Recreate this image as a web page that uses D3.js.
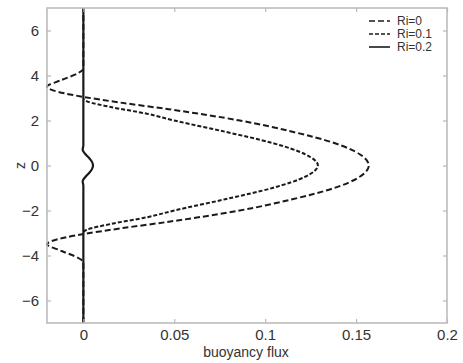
<!DOCTYPE html>
<html><head><meta charset="utf-8">
<script src="https://cdn.jsdelivr.net/npm/d3@7"></script>
<style>body{margin:0;background:#fff}svg{display:block;font-family:"Liberation Sans",Arial,sans-serif}</style>
</head><body><svg id="c" width="463" height="363"></svg>
<script>
// half profiles (z >= 0); mirrored for z < 0
const zRi0 = [0, 0.5, 1.0, 1.5, 2.0, 2.5, 2.8, 3.05, 3.2, 3.5, 3.8, 4.1, 4.3, 7];
const fRi0 = [0.157, 0.152, 0.138, 0.115, 0.086, 0.047, 0.02, 0, -0.01, -0.02, -0.012, -0.003, 0, 0];
const zRi01 = [0, 0.5, 1.0, 1.5, 2.0, 2.3, 2.6, 2.85, 2.95];
const fRi01 = [0.129, 0.122, 0.104, 0.078, 0.05, 0.035, 0.015, 0.002, 0];
const zRi02 = [0, 0.15, 0.3, 0.5, 0.7, 0.9, 7];
const fRi02 = [0.0053, 0.0048, 0.0035, 0.0012, -0.0004, 0, 0];
const xTicks = [0, 0.05, 0.1, 0.15, 0.2];
const yTicks = [-6, -4, -2, 0, 2, 4, 6];
const legendLabels = ["Ri=0", "Ri=0.1", "Ri=0.2"];

function mirror(zs, fs){
  const pts = [];
  for (let i = zs.length-1; i >= 0; i--) pts.push([fs[i], -zs[i]]);
  for (let i = 1; i < zs.length; i++) pts.push([fs[i], zs[i]]);
  return pts;
}
const series = [
  {pts: mirror(zRi0, fRi0), dash: "6,3", w: 2},
  {pts: mirror(zRi01, fRi01), dash: "4,2", w: 2},
  {pts: mirror(zRi02, fRi02), dash: null, w: 2.2}
];

const svg = d3.select("#c");
const L = 47, R = 447, T = 8, B = 323;
const x = d3.scaleLinear().domain([-0.02, 0.2]).range([L, R]);
const y = d3.scaleLinear().domain([-7, 7]).range([B, T]);
const axisCol = "#b8b8b8", textCol = "#333";

const line = d3.line().x(d => x(d[0])).y(d => y(d[1])).curve(d3.curveMonotoneY);
series.forEach(s => {
  svg.append("path").attr("d", line(s.pts)).attr("fill", "none")
    .attr("stroke", "#1a1a1a").attr("stroke-width", s.w)
    .attr("stroke-dasharray", s.dash);
});

// box
svg.append("rect").attr("x", L).attr("y", T).attr("width", R-L).attr("height", B-T)
  .attr("fill", "none").attr("stroke", axisCol).attr("stroke-width", 1.5);

const gx = svg.append("g").attr("transform", `translate(0,${B})`)
  .call(d3.axisBottom(x).tickValues(xTicks).tickSize(-4).tickPadding(6).tickFormat(d3.format("")));
const gxt = svg.append("g").attr("transform", `translate(0,${T})`)
  .call(d3.axisTop(x).tickValues(xTicks).tickSize(-4).tickFormat(""));
const gy = svg.append("g").attr("transform", `translate(${L},0)`)
  .call(d3.axisLeft(y).tickValues(yTicks).tickSize(-4).tickPadding(8));
const gyr = svg.append("g").attr("transform", `translate(${R},0)`)
  .call(d3.axisRight(y).tickValues(yTicks).tickSize(-4).tickFormat(""));
[gx, gxt, gy, gyr].forEach(g => {
  g.select(".domain").remove();
  g.selectAll(".tick line").attr("stroke", axisCol).attr("stroke-width", 1.2);
  g.selectAll("text").attr("fill", textCol).attr("font-size", 15);
});

svg.append("text").attr("x", 246).attr("y", 357).attr("text-anchor", "middle")
  .attr("font-size", 14).attr("fill", textCol).text("buoyancy flux");
svg.append("text").attr("transform", `translate(20,${y(0)}) rotate(-90)`).attr("text-anchor", "middle")
  .attr("dy", "0.35em").attr("font-size", 14).attr("fill", textCol).text("z");

// legend
const lg = svg.append("g");
legendLabels.forEach((lab, i) => {
  const yy = 21 + i * 13;
  lg.append("line").attr("x1", 369).attr("x2", 390).attr("y1", yy).attr("y2", yy)
    .attr("stroke", "#1a1a1a").attr("stroke-width", 1.6).attr("stroke-dasharray", series[i].dash);
  lg.append("text").attr("x", 397).attr("y", yy).attr("dy", "0.35em")
    .attr("font-size", 12).attr("fill", textCol).text(lab);
});
</script></body></html>
